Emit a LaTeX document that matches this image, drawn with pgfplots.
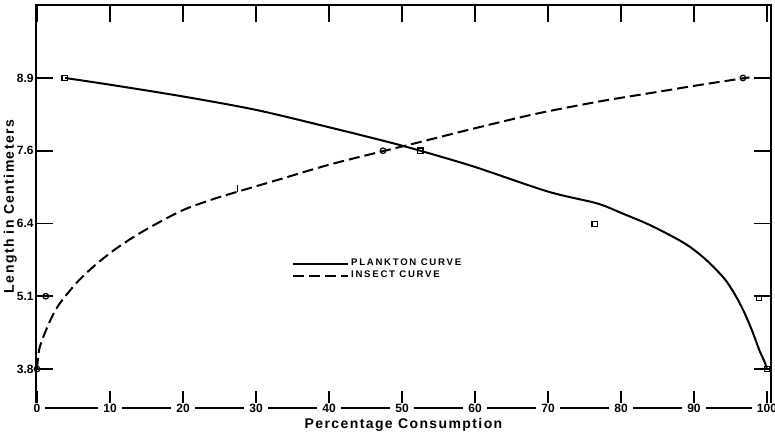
\documentclass[border=0pt]{standalone}
\usepackage{pgfplots}
\pgfplotsset{compat=1.18}
\usepackage{fontspec}
\setmainfont{Liberation Sans}
\newfontfamily\lblfont[LetterSpace=10]{Liberation Sans}
\newfontfamily\legfont[LetterSpace=18]{Liberation Sans}
\begin{document}
\begin{tikzpicture}[x=1pt,y=1pt]
\useasboundingbox (0,0) rectangle (387.5,218);
\begin{axis}[
  at={(18pt,14pt)}, anchor=south west,
  width=367.5pt, height=201.5pt, scale only axis,
  xmin=-0.14, xmax=100.55, ymin=3.103, ymax=10.304,
  clip=false,
  axis line style={line width=1.1pt},
  xtick={0,10,...,100}, xtick pos=both, xticklabel pos=bottom,
  ytick={3.8,5.1,6.4,7.7,9.0}, yticklabels={3.8,5.1,6.4,7.6,8.9},
  ytick pos=both, yticklabel pos=left,
  tick align=inside, major tick length=8.5pt,
  tick style={line width=0.8pt, black},
  xticklabel style={anchor=center, fill=white, inner xsep=2.5pt, inner ysep=0.5pt, font=\fontsize{6}{7}\selectfont\bfseries},
  yticklabel style={font=\fontsize{6}{7}\selectfont\bfseries, inner sep=1pt},
  /pgf/number format/assume math mode=true,
  xlabel={\lblfont\bfseries Percentage Consumption},
  xlabel style={at={(axis description cs:0.5,-0.042)}, anchor=center, font=\fontsize{7}{8}\selectfont},
  ylabel={\lblfont\bfseries Length in Centimeters},
  ylabel style={at={(axis description cs:-0.035,0.5)}, anchor=center, font=\fontsize{7}{8}\selectfont},
  legend style={at={(axis cs:34.9,5.57)}, anchor=west, draw=none, fill=none, inner sep=0pt,
    font=\legfont\bfseries\fontsize{4.8}{5}\selectfont, row sep=-0.8pt, nodes={inner sep=1pt}},
  legend cell align=left,
  legend image code/.code={\draw[#1] (0pt,0pt) -- (27.5pt,0pt);},
]
% Plankton curve
\addplot[line width=1pt, smooth, tension=0.5] coordinates {
(3.84,9.00) (10,8.88) (20,8.67) (30,8.43) (40,8.12) (48,7.86) (52.5,7.70)
(60,7.41) (70,6.97) (76.7,6.76) (80,6.59) (84,6.37) (88,6.10) (90,5.93)
(92,5.71) (94,5.44) (95,5.26) (96,5.04) (97,4.78) (98,4.47) (99,4.12) (99.6,3.95) (100,3.80)};
\addlegendentry{PLANKTON CURVE}
% Insect curve
\addplot[line width=1pt, dash pattern=on 5.5pt off 2.5pt, smooth, tension=0.5] coordinates {
(0,3.80) (0.3,4.15) (1,4.42) (2,4.72) (3,4.95) (4.5,5.20) (6,5.42) (8,5.66)
(10.4,5.91) (13,6.14) (16,6.37) (20,6.64) (24,6.83) (27,6.95) (33,7.18)
(40,7.45) (47,7.68) (52,7.84) (59,8.07) (68,8.35) (77,8.58) (84,8.73) (91,8.88) (97.6,9.01)};
\addlegendentry{INSECT CURVE}
% plankton data points
\addplot[only marks, mark=square, mark size=1.4pt, mark options={line width=0.6pt}, forget plot] coordinates {
(3.8,9.0) (52.5,7.7) (76.4,6.39) (98.9,5.07) (100,3.8)};
% insect data points
\addplot[only marks, mark=o, mark size=1.4pt, mark options={line width=0.6pt}, forget plot] coordinates {
(0,3.8) (1.2,5.1) (47.4,7.7) (96.7,9.0)};
\addplot[only marks, mark=*, mark size=0.3pt, forget plot] coordinates {
(0,3.8) (1.2,5.1) (47.4,7.7) (96.7,9.0)};
\addplot[only marks, mark=|, mark size=1.8pt, mark options={line width=0.5pt}, forget plot] coordinates {(27.4,7.02)};
\end{axis}
\end{tikzpicture}
\end{document}
